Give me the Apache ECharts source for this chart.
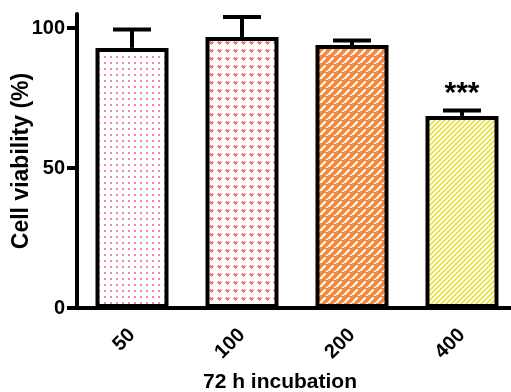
<!DOCTYPE html>
<html>
<head>
<meta charset="utf-8">
<script src="https://cdn.jsdelivr.net/npm/echarts@6/dist/echarts.min.js"></script>
<style>
  html, body { margin: 0; padding: 0; background: #fff; }
  #chart { width: 511px; height: 392px; }
</style>
</head>
<body>
<div id="chart"></div>
<script>
// 数据
var categories = ['50', '100', '200', '400']
var viability = [92.9, 96.8, 93.9, 68.6]
var sdValues = [6.6, 7.1, 1.6, 1.9]
var marks = ['', '', '', '***']
var yTicks = [0, 50, 100]

// 填充图案
function makeTile (w, h, draw) {
  var c = document.createElement('canvas')
  c.width = w
  c.height = h
  var ctx = c.getContext('2d')
  ctx.fillStyle = '#ffffff'
  ctx.fillRect(0, 0, w, h)
  draw(ctx)
  return { image: c, repeat: 'repeat' }
}
var dotTile = makeTile(6, 6, function (ctx) {
  ctx.fillStyle = '#f486a4'
  ctx.fillRect(2, 2, 2, 2)
})
var heartTile = makeTile(8, 8, function (ctx) {
  ctx.fillStyle = '#f3786c'
  ctx.fillRect(2, 1, 1, 1)
  ctx.fillRect(4, 1, 1, 1)
  ctx.fillRect(1, 2, 5, 1)
  ctx.fillRect(2, 3, 3, 1)
  ctx.fillRect(3, 4, 1, 1)
})
var brickTile = makeTile(8, 8, function (ctx) {
  ctx.fillStyle = '#f5863a'
  ctx.fillRect(0, 0, 8, 8)
  ctx.strokeStyle = '#ffffff'
  ctx.lineWidth = 2.2
  ctx.lineCap = 'round'
  ctx.beginPath()
  ctx.moveTo(1, 6); ctx.lineTo(5, 2)
  ctx.moveTo(5, 10); ctx.lineTo(9, 6)
  ctx.moveTo(-3, 2); ctx.lineTo(1, -2)
  ctx.stroke()
})
var stripeTile = makeTile(5, 5, function (ctx) {
  ctx.strokeStyle = '#e8e23c'
  ctx.lineWidth = 1.6
  ctx.beginPath()
  ctx.moveTo(-1, 6); ctx.lineTo(6, -1)
  ctx.moveTo(-1, 1); ctx.lineTo(1, -1)
  ctx.moveTo(4, 6); ctx.lineTo(6, 4)
  ctx.stroke()
})
var fills = [dotTile, heartTile, brickTile, stripeTile]

var font = 'Liberation Sans, Arial, sans-serif'

var chart = echarts.init(document.getElementById('chart'))
var option = {
  animation: false,
  title: {
    text: '72 h incubation',
    left: 275,
    top: 367,
    textAlign: 'center',
    textStyle: { fontFamily: font, fontWeight: 'bold', fontSize: 21, color: '#000' }
  },
  grid: { left: 77, right: -6, top: 14, bottom: 84, outerBoundsMode: 'none' },
  xAxis: {
    type: 'category',
    data: categories,
    axisLine: { lineStyle: { color: '#000', width: 4 } },
    axisTick: { alignWithLabel: true, length: 8, lineStyle: { color: '#000', width: 4 } },
    axisLabel: {
      rotate: 45,
      margin: 24,
      fontFamily: font,
      fontWeight: 'bold',
      fontSize: 20,
      color: '#000'
    }
  },
  yAxis: {
    type: 'value',
    min: 0,
    max: 105,
    interval: 50,
    name: 'Cell viability (%)',
    nameLocation: 'middle',
    nameGap: 44,
    nameMoveOverlap: false,
    nameTextStyle: { fontFamily: font, fontWeight: 'bold', fontSize: 23, color: '#000' },
    splitLine: { show: false },
    axisLine: { show: true, lineStyle: { color: '#000', width: 4 } },
    axisTick: { show: true, length: 10, customValues: yTicks, lineStyle: { color: '#000', width: 4 } },
    axisLabel: {
      customValues: yTicks,
      margin: 12,
      fontFamily: font,
      fontWeight: 'bold',
      fontSize: 20,
      color: '#000'
    }
  },
  series: [
    {
      type: 'bar',
      barWidth: 73,
      data: viability.map(function (v, i) {
        return {
          value: v,
          itemStyle: { color: fills[i], borderColor: '#000', borderWidth: 4 }
        }
      }),
      z: 2
    },
    {
      // 误差线
      type: 'custom',
      data: viability.map(function (v, i) { return [i, v, sdValues[i]] }),
      renderItem: function (params, api) {
        var idx = api.value(0)
        var mean = api.value(1)
        var sd = api.value(2)
        var base = api.coord([idx, mean])
        var top = api.coord([idx, mean + sd])
        var half = 19
        var children = [
          { type: 'line', shape: { x1: base[0], y1: base[1], x2: top[0], y2: top[1] }, style: { stroke: '#000', lineWidth: 4 } },
          { type: 'line', shape: { x1: top[0] - half, y1: top[1], x2: top[0] + half, y2: top[1] }, style: { stroke: '#000', lineWidth: 4 } }
        ]
        var mark = marks[params.dataIndex]
        if (mark) {
          children.push({
            type: 'text',
            style: {
              text: mark,
              x: top[0],
              y: top[1] - 17,
              align: 'center',
              verticalAlign: 'middle',
              font: 'bold 30px ' + font,
              fill: '#000'
            }
          })
        }
        return { type: 'group', children: children }
      },
      z: 3
    }
  ]
}
chart.setOption(option)
</script>
</body>
</html>
